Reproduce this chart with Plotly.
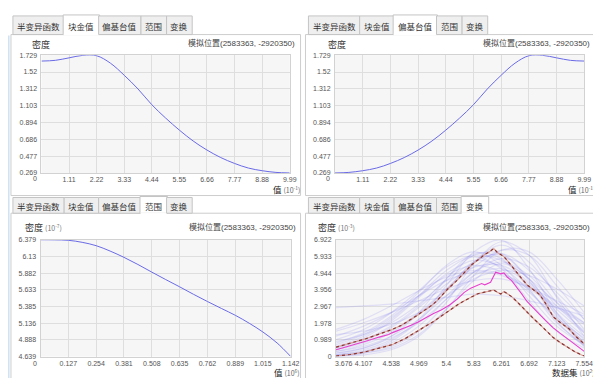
import plotly.graph_objects as go

W, H = 601, 378

def px(x):
    return x / W

def py(y):
    return 1 - y / H

# ---------------- data ----------------
tab_labels = ["半变异函数", "块金值", "偏基台值", "范围", "变换"]
density_label = "密度"
value_label = "值"
dataset_label = "数据集"
location_text = "模拟位置(2583363, -2920350)"

# panel 1: 块金值
nug_x = [0, 0.555, 1.11, 1.665, 2.22, 2.775, 3.33, 3.885, 4.44, 4.995, 5.55, 6.105,
         6.66, 7.215, 7.77, 8.325, 8.88, 9.435, 9.99]
nug_y = [1.656, 1.665, 1.696, 1.727, 1.722, 1.63, 1.48, 1.31, 1.115, 0.95, 0.80, 0.665,
         0.553, 0.46, 0.387, 0.33, 0.297, 0.276, 0.269]
nug_xticks = [0, 1.11, 2.22, 3.33, 4.44, 5.55, 6.66, 7.77, 8.88, 9.99]
nug_xlabels = ["0", "1.11", "2.22", "3.33", "4.44", "5.55", "6.66", "7.77", "8.88", "9.99"]
nug_yticks = [0.269, 0.477, 0.686, 0.894, 1.103, 1.312, 1.52, 1.729]
nug_ylabels = ["0.269", "0.477", "0.686", "0.894", "1.103", "1.312", "1.52", "1.729"]

# panel 2: 偏基台值
sill_x = [0, 0.555, 1.11, 1.665, 2.22, 2.775, 3.33, 3.885, 4.44, 4.995, 5.55, 6.105,
          6.66, 7.215, 7.77, 8.325, 8.88, 9.435, 9.99]
sill_y = [0.269, 0.276, 0.297, 0.33, 0.387, 0.46, 0.553, 0.665, 0.80, 0.95, 1.115, 1.31,
          1.48, 1.63, 1.722, 1.727, 1.696, 1.665, 1.656]
sill_xticks = nug_xticks
sill_xlabels = nug_xlabels
sill_yticks = nug_yticks
sill_ylabels = nug_ylabels

# panel 3: 范围
range_x = [0, 0.0635, 0.127, 0.19, 0.254, 0.3175, 0.381, 0.4445, 0.508, 0.5715, 0.635,
           0.6985, 0.762, 0.8255, 0.889, 0.9525, 1.015, 1.08, 1.142]
range_y = [6.379, 6.377, 6.37, 6.34, 6.29, 6.21, 6.116, 6.01, 5.896, 5.785, 5.677,
           5.565, 5.458, 5.355, 5.253, 5.135, 5.004, 4.84, 4.639]
range_xticks = [0, 0.127, 0.254, 0.381, 0.508, 0.635, 0.762, 0.889, 1.015, 1.142]
range_xlabels = ["0", "0.127", "0.254", "0.381", "0.508", "0.635", "0.762", "0.889", "1.015", "1.142"]
range_yticks = [4.639, 4.888, 5.136, 5.385, 5.633, 5.882, 6.13, 6.379]
range_ylabels = ["4.639", "4.888", "5.136", "5.385", "5.633", "5.882", "6.13", "6.379"]

# panel 4: 变换
trans_xticks = [3.676, 4.107, 4.538, 4.969, 5.4, 5.83, 6.261, 6.692, 7.123, 7.554]
trans_xlabels = ["3.676", "4.107", "4.538", "4.969", "5.4", "5.83", "6.261", "6.692", "7.123", "7.554"]
trans_yticks = [0, 0.989, 1.978, 2.967, 3.956, 4.944, 5.933, 6.922]
trans_ylabels = ["0", "0.989", "1.978", "2.967", "3.956", "4.944", "5.933", "6.922"]

sim_x = [3.676, 4.107, 4.538, 4.969, 5.4, 5.83, 6.261, 6.692, 7.123, 7.554]
sim_1 = [0.3, 0.7, 1.4, 2.5, 4.0, 5.6, 6.6, 5.6, 3.6, 1.6]
sim_2 = [0.1, 0.4, 1.0, 2.2, 4.2, 6.2, 6.9, 5.2, 2.6, 0.8]
sim_3 = [0.5, 1.0, 1.8, 3.0, 4.6, 6.0, 6.1, 4.6, 2.6, 1.2]
sim_4 = [1.5, 2.0, 2.6, 3.3, 4.0, 4.5, 4.6, 4.1, 3.3, 2.5]
sim_5 = [0.0, 0.2, 0.6, 1.5, 3.2, 5.5, 6.8, 6.0, 3.5, 1.2]
sim_6 = [0.8, 1.4, 2.4, 3.8, 5.4, 6.2, 5.4, 3.6, 1.8, 0.7]
sim_7 = [2.9, 3.0, 3.1, 3.3, 3.5, 3.7, 3.6, 3.3, 2.9, 2.4]
sim_8 = [0.2, 0.5, 1.2, 2.6, 4.6, 6.1, 5.8, 4.0, 2.0, 0.7]
sim_9 = [1.0, 1.6, 2.6, 3.9, 5.3, 6.0, 5.7, 4.6, 3.2, 2.0]
sim_10 = [0.1, 0.3, 0.8, 1.8, 3.4, 5.0, 5.8, 5.3, 3.8, 2.2]
sim_11 = [0.4, 0.9, 1.7, 2.9, 4.3, 5.3, 5.4, 4.4, 2.8, 1.4]
sim_12 = [1.2, 1.8, 2.6, 3.6, 4.5, 5.0, 4.8, 4.0, 2.9, 1.9]
sim_13 = [0.0, 0.1, 0.4, 1.2, 2.8, 4.8, 6.3, 6.2, 4.6, 2.6]
sim_14 = [0.6, 1.2, 2.2, 3.6, 5.1, 5.9, 5.2, 3.3, 1.5, 0.5]
sim_15 = [0.3, 0.6, 1.2, 2.2, 3.6, 5.0, 5.6, 4.8, 3.0, 1.5]
sim_16 = [1.6, 2.2, 3.0, 3.9, 4.7, 5.1, 4.9, 4.1, 3.0, 2.0]
sim_17 = [0.2, 0.5, 1.1, 2.0, 3.4, 4.8, 5.2, 4.3, 2.5, 1.0]
sim_18 = [0.9, 1.3, 2.0, 3.1, 4.5, 5.6, 6.1, 5.1, 3.2, 1.4]
sim_19 = [0.0, 0.2, 0.5, 1.3, 2.8, 4.5, 5.5, 4.6, 2.4, 0.6]
sim_20 = [0.7, 1.3, 2.3, 3.6, 4.8, 5.4, 5.0, 3.8, 2.3, 1.1]
sim_21 = [0.1, 0.3, 0.9, 2.1, 3.9, 5.6, 6.0, 4.5, 2.1, 0.6]
sim_22 = [0.4, 0.8, 1.5, 2.6, 4.0, 5.3, 6.3, 6.0, 4.2, 2.2]
sim_23 = [1.3, 1.5, 1.9, 2.6, 3.6, 4.6, 5.1, 4.8, 4.0, 3.0]
sim_24 = [0.5, 1.1, 2.1, 3.5, 4.9, 5.7, 5.3, 3.9, 2.2, 0.9]
sim_lines = [sim_1, sim_2, sim_3, sim_4, sim_5, sim_6, sim_7, sim_8, sim_9, sim_10, sim_11, sim_12,
             sim_13, sim_14, sim_15, sim_16, sim_17, sim_18, sim_19, sim_20, sim_21, sim_22, sim_23, sim_24]

upper_x = [3.676, 3.85, 4.0, 4.14, 4.3, 4.45, 4.55, 4.7, 4.85, 4.96, 5.1, 5.18, 5.25, 5.43, 5.55,
           5.68, 5.8, 5.92, 6.0, 6.07, 6.14, 6.2, 6.29, 6.35, 6.42, 6.5, 6.58, 6.66, 6.76, 6.86,
           6.95, 7.07, 7.2, 7.32, 7.42, 7.52, 7.554]
upper_y = [0.55, 0.72, 0.9, 1.05, 1.25, 1.45, 1.6, 1.85, 2.2, 2.48, 2.85, 3.05, 3.3, 4.03, 4.45,
           5.0, 5.45, 5.8, 6.05, 6.2, 6.4, 6.15, 5.95, 5.7, 5.35, 5.0, 4.6, 4.25, 3.95, 3.66,
           3.15, 2.35, 1.95, 1.63, 1.2, 0.85, 0.75]
lower_x = [3.676, 3.9, 4.14, 4.35, 4.55, 4.75, 4.96, 5.1, 5.2, 5.32, 5.45, 5.57, 5.68, 5.78, 5.89,
           6.0, 6.08, 6.14, 6.2, 6.25, 6.3, 6.35, 6.42, 6.5, 6.58, 6.66, 6.76, 6.86, 6.96, 7.07,
           7.17, 7.27, 7.4, 7.53, 7.554]
lower_y = [0.03, 0.12, 0.28, 0.48, 0.7, 1.05, 1.5, 1.85, 2.08, 2.4, 2.75, 3.05, 3.3, 3.5, 3.72,
           3.82, 3.9, 3.94, 3.8, 3.7, 3.85, 3.72, 3.55, 3.26, 2.95, 2.58, 2.25, 1.9, 1.5, 1.12,
           0.85, 0.62, 0.3, 0.06, 0.04]
mean_x = [3.676, 3.9, 4.14, 4.35, 4.5, 4.55, 4.7, 4.85, 4.96, 5.1, 5.2, 5.32, 5.45, 5.57, 5.68,
          5.78, 5.89, 5.95, 6.0, 6.09, 6.17, 6.25, 6.3, 6.35, 6.42, 6.5, 6.58, 6.66, 6.76, 6.86,
          6.96, 7.07, 7.17, 7.27, 7.4, 7.53, 7.554]
mean_y = [0.4, 0.62, 0.9, 1.15, 1.3, 1.4, 1.62, 1.85, 2.05, 2.35, 2.55, 2.75, 3.05, 3.4, 3.8,
          4.05, 4.23, 4.32, 4.25, 4.4, 5.0, 4.9, 4.95, 4.71, 4.5, 4.13, 3.7, 3.26, 2.85, 2.48,
          2.1, 1.7, 1.4, 1.12, 0.75, 0.35, 0.3]

# ---------------- styling ----------------
CJK = "Noto Sans CJK SC"
NUM = "Liberation Sans, Noto Sans CJK SC"
CURVE = "#6a6ae6"
GRID = "#dedede"
AXLINE = "#d2d2d2"
TICKCOL = "#555555"

fig = go.Figure()

# panel geometry in pixels: (plot left, plot right, plot top, plot bottom)
geo = {
    1: (34, 286, 44, 164),
    2: (332, 585, 44, 164),
    3: (33, 287, 232, 351),
    4: (333, 585, 232, 351),
}
axes_def = {
    1: (nug_xticks, nug_xlabels, nug_yticks, nug_ylabels, [0, 9.99], [0.269, 1.729]),
    2: (sill_xticks, sill_xlabels, sill_yticks, sill_ylabels, [0, 9.99], [0.269, 1.729]),
    3: (range_xticks, range_xlabels, range_yticks, range_ylabels, [0, 1.142], [4.639, 6.379]),
    4: (trans_xticks, trans_xlabels, trans_yticks, trans_ylabels, [3.676, 7.554], [0, 6.922]),
}

layout_axes = {}
for i in range(1, 5):
    l, r, t, b = geo[i]
    xt, xl, yt, yl, xr, yr = axes_def[i]
    sx = "" if i == 1 else str(i)
    layout_axes["xaxis" + sx] = dict(
        domain=[px(l), px(r)], range=xr, tickvals=xt[1:],
        ticktext=xl[1:], showgrid=True, gridcolor=GRID, gridwidth=1,
        zeroline=False, showline=True, linecolor=AXLINE, mirror=True, ticks="",
        tickfont=dict(family=NUM, size=7, color=TICKCOL), anchor="y" + sx,
        fixedrange=True, ticklabelstandoff=0,
    )
    layout_axes["yaxis" + sx] = dict(
        domain=[py(b), py(t)], range=yr, tickvals=yt, ticktext=yl,
        showgrid=True, gridcolor=GRID, gridwidth=1, zeroline=False, showline=True,
        linecolor=AXLINE, mirror=True, ticks="",
        tickfont=dict(family=NUM, size=7, color=TICKCOL), anchor="x" + sx,
        fixedrange=True, ticklabelstandoff=2,
    )

# traces
fig.add_trace(go.Scatter(x=nug_x, y=nug_y, mode="lines", xaxis="x", yaxis="y",
                         line=dict(color=CURVE, width=1, shape="spline"), hoverinfo="skip"))
fig.add_trace(go.Scatter(x=sill_x, y=sill_y, mode="lines", xaxis="x2", yaxis="y2",
                         line=dict(color=CURVE, width=1, shape="spline"), hoverinfo="skip"))
fig.add_trace(go.Scatter(x=range_x, y=range_y, mode="lines", xaxis="x3", yaxis="y3",
                         line=dict(color=CURVE, width=1, shape="spline"), hoverinfo="skip"))
for s in sim_lines:
    fig.add_trace(go.Scatter(x=sim_x, y=s, mode="lines", xaxis="x4", yaxis="y4",
                             line=dict(color="rgba(115,105,235,0.17)", width=1.2, shape="spline", smoothing=1.0),
                             hoverinfo="skip"))
for xs, ys in ((upper_x, upper_y), (lower_x, lower_y)):
    fig.add_trace(go.Scatter(x=xs, y=ys, mode="lines", xaxis="x4", yaxis="y4",
                             line=dict(color="rgba(215,150,140,0.85)", width=1.2), hoverinfo="skip"))
    fig.add_trace(go.Scatter(x=xs, y=ys, mode="lines", xaxis="x4", yaxis="y4",
                             line=dict(color="#8a3434", width=1.2, dash="dot"), hoverinfo="skip"))
fig.add_trace(go.Scatter(x=mean_x, y=mean_y, mode="lines", xaxis="x4", yaxis="y4",
                         line=dict(color="#e83fcf", width=1.1), hoverinfo="skip"))

# ---------------- frames and tabs ----------------
shapes = []
annotations = []

frames = [  # (left, right, top, bottom, active tab, tab strip top, x offset)
    (3, 297, 23, 187, 1, 4, 0),
    (302, 598, 23, 187, 2, 4, 300),
    (3, 297, 205, 376, 3, 189, 0),
    (302, 598, 205, 376, 4, 189, 300),
]
tab_edges = [5, 57, 92, 135, 161, 187]

for (fl, fr, ft, fb, act, tt, off) in frames:
    shapes.append(dict(type="rect", xref="paper", yref="paper", x0=px(fl), x1=px(fr),
                       y0=py(fb), y1=py(ft), line=dict(color="#cdcdcd", width=1),
                       fillcolor="rgba(0,0,0,0)", layer="below"))
    for k, lab in enumerate(tab_labels):
        x0 = tab_edges[k] + off
        x1 = tab_edges[k + 1] + off
        if k == act:
            shapes.append(dict(type="rect", xref="paper", yref="paper", x0=px(x0 - 1), x1=px(x1 + 1),
                               y0=py(ft), y1=py(tt - 1), line=dict(color="#c4c4c4", width=1),
                               fillcolor="white", layer="above"))
            shapes.append(dict(type="line", xref="paper", yref="paper", x0=px(x0 - 0.5), x1=px(x1 + 0.5),
                               y0=py(ft), y1=py(ft), line=dict(color="white", width=1.5), layer="above"))
        else:
            shapes.append(dict(type="rect", xref="paper", yref="paper", x0=px(x0), x1=px(x1),
                               y0=py(ft), y1=py(tt), line=dict(color="#c4c4c4", width=1),
                               fillcolor="#efefef", layer="above"))
        annotations.append(dict(x=px((x0 + x1) / 2), y=py((tt + ft) / 2 + 0.5), xref="paper", yref="paper",
                                text=lab, showarrow=False, xanchor="center", yanchor="middle",
                                font=dict(family=CJK, size=8.5, color="#333333")))

# left thin blue edge
shapes.append(dict(type="line", xref="paper", yref="paper", x0=px(0.8), x1=px(0.8), y0=py(376), y1=py(24),
                   line=dict(color="#cfe1f3", width=1.5), layer="below"))

# titles
title_pos = [  # (density x, suffix, loc right x, title y)
    (22, "", 293, 33),
    (323, "", 593, 33),
    (15, "-7", 294, 220),
    (313, "-3", 593, 220),
]
for (dx, suf, lx, ty) in title_pos:
    txt = density_label
    if suf:
        txt += " <span style='font-size:7px;color:#777'>(10<sup>%s</sup>)</span>" % suf
    annotations.append(dict(x=px(dx), y=py(ty), xref="paper", yref="paper", text=txt,
                            showarrow=False, xanchor="left", yanchor="middle",
                            font=dict(family=CJK, size=9, color="#333333")))
    annotations.append(dict(x=px(lx), y=py(ty - 1), xref="paper", yref="paper", text=location_text,
                            showarrow=False, xanchor="right", yanchor="middle",
                            font=dict(family=NUM, size=8, color="#444444")))

# first x tick labels (origin labels)
first_labels = [
    (27, 170, nug_xlabels[0]),
    (325, 170, sill_xlabels[0]),
    (27, 358, range_xlabels[0]),
    (341, 358, trans_xlabels[0]),
]
for (fx, fy, t) in first_labels:
    annotations.append(dict(x=px(fx), y=py(fy), xref="paper", yref="paper", text=t,
                            showarrow=False, xanchor="center", yanchor="middle",
                            font=dict(family=NUM, size=7, color=TICKCOL)))

# x axis titles
xtitles = [
    (297, 180, value_label, "-1"),
    (597, 180, value_label, "-1"),
    (297, 367, value_label, "6"),
    (597, 367, dataset_label, "2"),
]
for (tx, ty, lab, ex) in xtitles:
    txt = lab + " <span style='font-size:7px;color:#666'>(10<sup>%s</sup>)</span>" % ex
    annotations.append(dict(x=px(tx), y=py(ty), xref="paper", yref="paper", text=txt,
                            showarrow=False, xanchor="right", yanchor="middle", borderpad=0,
                            font=dict(family=CJK, size=8.5, color="#222222")))

fig.update_layout(
    width=W, height=H, margin=dict(l=0, r=0, t=0, b=0),
    paper_bgcolor="white", plot_bgcolor="#f6f6f6",
    showlegend=False, shapes=shapes, annotations=annotations,
    **layout_axes,
)

fig.write_html("out.html", config={"displayModeBar": False})
